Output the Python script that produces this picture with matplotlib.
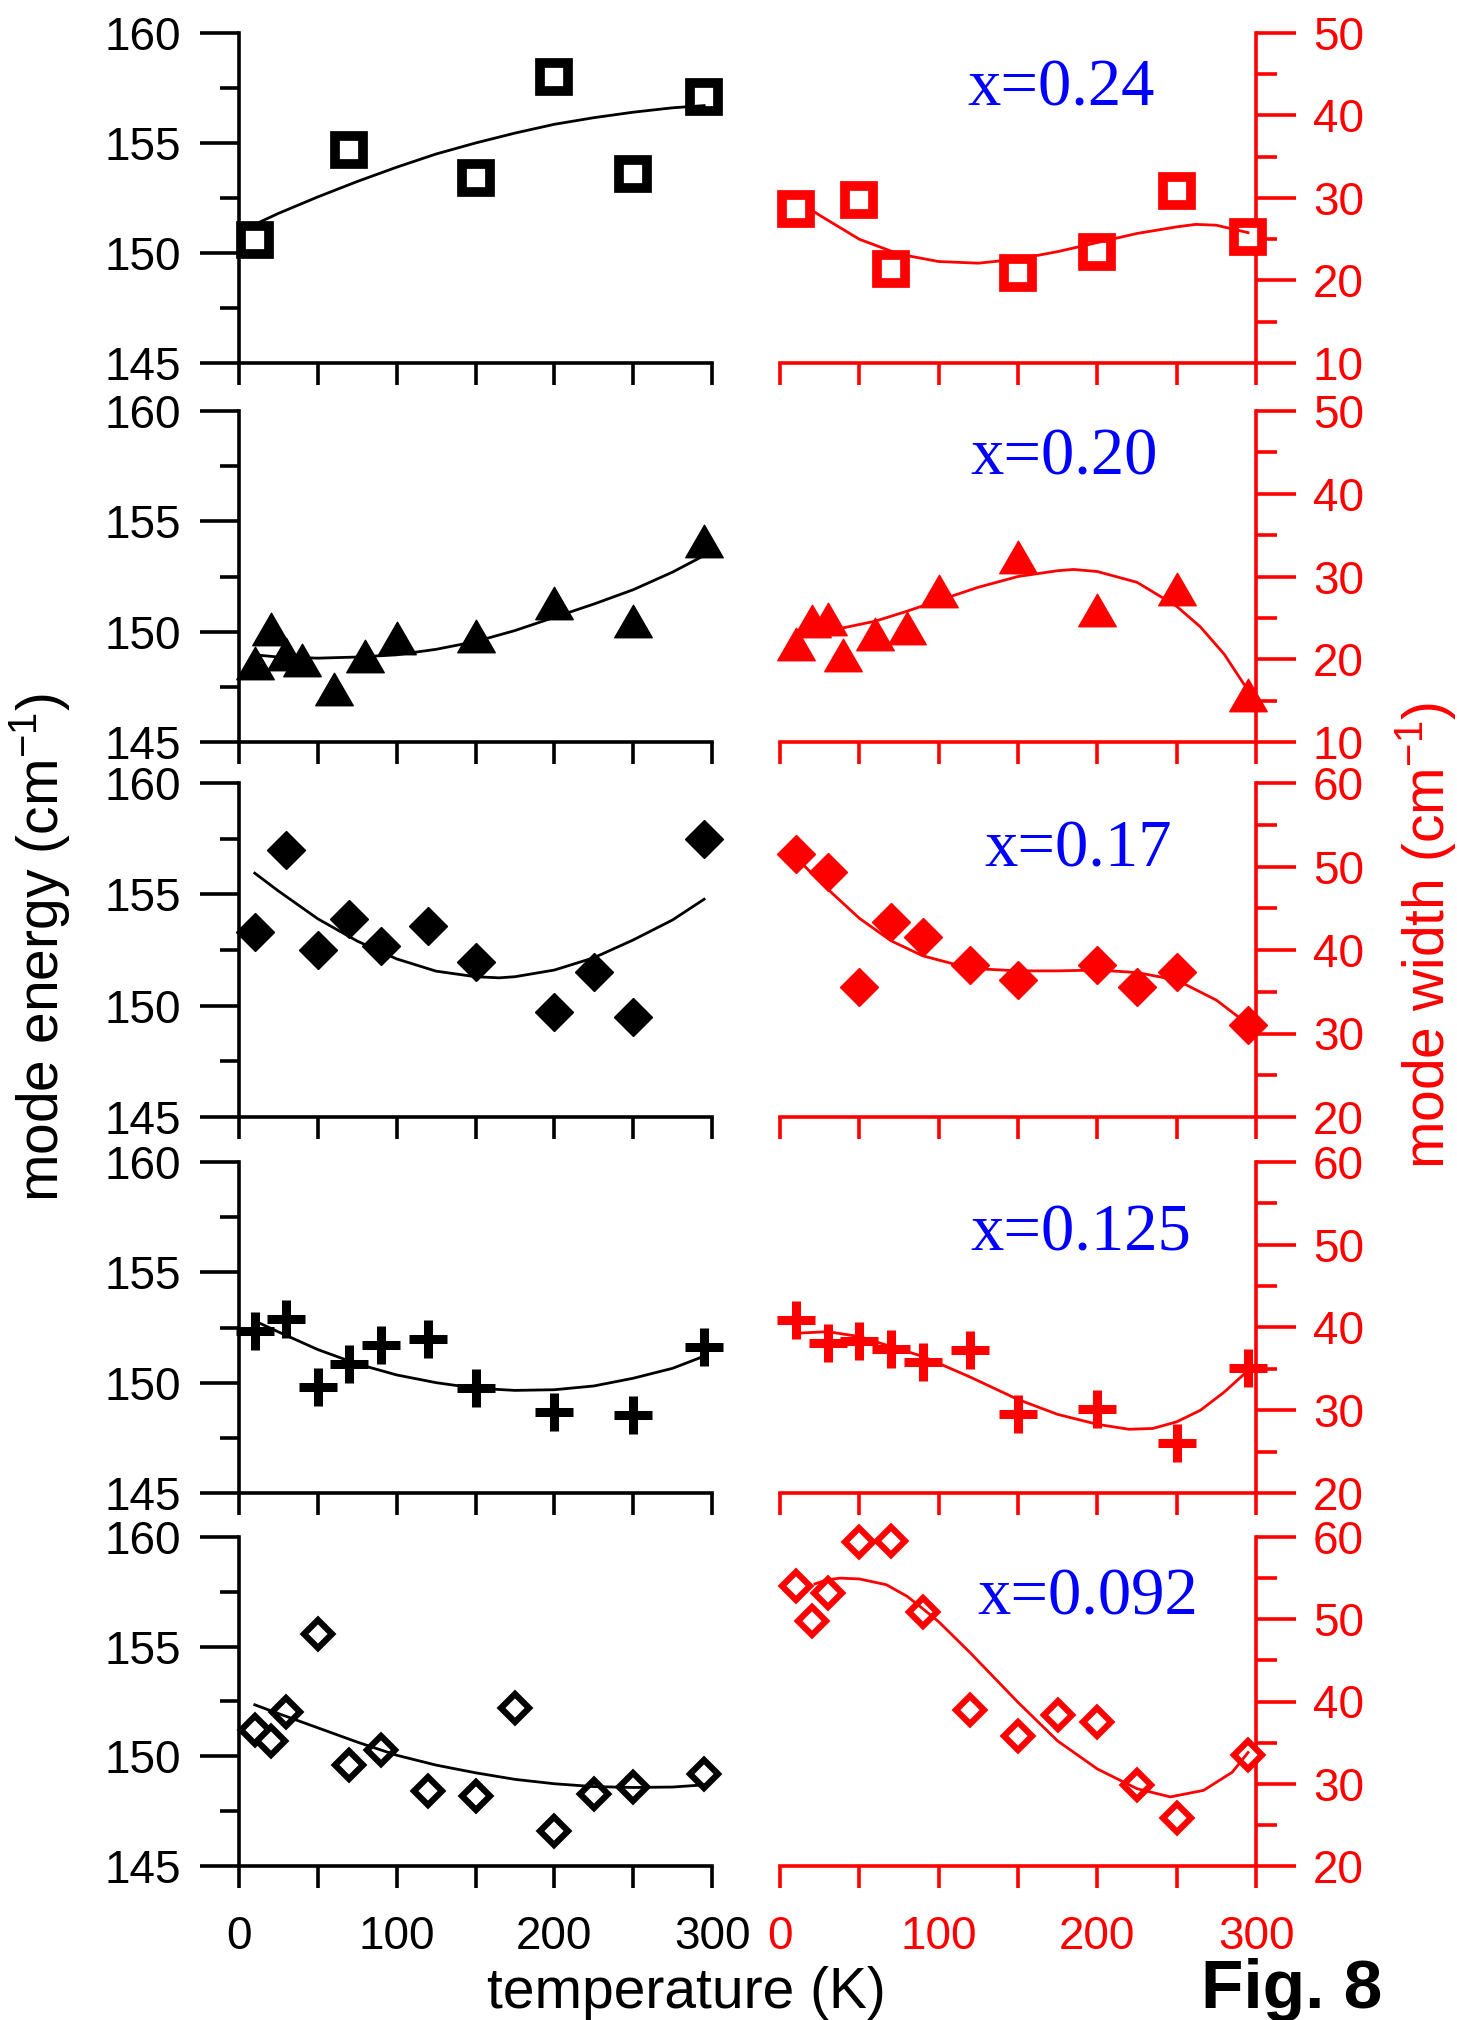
import numpy as np
import matplotlib
matplotlib.use('Agg')
import matplotlib.pyplot as plt
from matplotlib.path import Path
from matplotlib.ticker import MultipleLocator

# ---------------- datos ----------------
# x = 0.24
t24_e = [10, 70, 150, 200, 250, 295]
e24 = [150.6, 154.7, 153.4, 158.0, 153.6, 157.1]
t24_w = [10, 50, 70, 150, 200, 250, 295]
w24 = [28.7, 29.7, 21.4, 20.9, 23.4, 30.9, 25.3]
fit24_e_t = [10, 25, 50, 75, 100, 125, 150, 175, 200, 225, 250, 275, 295]
fit24_e = [151.3, 151.8, 152.55, 153.25, 153.9, 154.5, 155.0, 155.45, 155.85, 156.15, 156.4, 156.6, 156.7]
fit24_w_t = [18, 25, 50, 75, 100, 125, 150, 175, 200, 225, 250, 262, 275, 295]
fit24_w = [28.8, 27.9, 25.0, 23.2, 22.3, 22.1, 22.6, 23.5, 24.6, 25.7, 26.5, 26.8, 26.7, 25.8]

# x = 0.20
t20 = [10, 20, 30, 40, 60, 80, 100, 150, 200, 250, 295]
e20 = [148.6, 150.1, 149.0, 148.7, 147.4, 148.9, 149.7, 149.8, 151.3, 150.5, 154.1]
w20 = [21.8, 24.6, 24.9, 20.5, 23.1, 23.8, 28.3, 32.3, 26.0, 28.5, 15.7]
fit20_e_t = [10, 25, 50, 75, 100, 125, 150, 175, 200, 225, 250, 275, 295]
fit20_e = [148.95, 148.85, 148.8, 148.85, 148.95, 149.2, 149.55, 150.05, 150.65, 151.25, 151.9, 152.7, 153.45]
fit20_w_t = [22, 40, 60, 80, 100, 125, 150, 175, 185, 200, 225, 250, 265, 280, 292, 295]
fit20_w = [23.3, 23.8, 24.6, 25.8, 27.1, 28.7, 30.0, 30.7, 30.85, 30.6, 29.3, 26.4, 23.9, 20.6, 17.1, 16.3]

# x = 0.17
t17 = [10, 30, 50, 70, 90, 120, 150, 200, 225, 250, 295]
e17 = [153.3, 157.0, 152.5, 153.9, 152.7, 153.6, 151.95, 149.7, 151.5, 149.5, 157.5]
w17 = [51.5, 49.3, 35.6, 43.4, 41.6, 38.2, 36.4, 38.2, 35.6, 37.4, 31.0]
fit17_e_t = [10, 25, 50, 75, 100, 125, 150, 165, 175, 200, 225, 250, 275, 295]
fit17_e = [155.95, 155.15, 153.9, 152.9, 152.1, 151.55, 151.3, 151.25, 151.3, 151.6, 152.15, 152.95, 153.85, 154.78]
fit17_w_t = [12, 30, 50, 70, 90, 120, 150, 175, 200, 225, 250, 275, 295]
fit17_w = [50.7, 47.3, 43.8, 41.1, 39.3, 37.8, 37.5, 37.5, 37.6, 37.3, 36.4, 34.0, 31.1]

# x = 0.125
t125 = [10, 30, 50, 70, 90, 120, 150, 200, 250, 295]
e125 = [152.35, 152.9, 149.8, 150.85, 151.7, 152.0, 149.75, 148.65, 148.55, 151.6]
w125 = [40.9, 38.1, 38.4, 37.4, 35.8, 37.3, 29.6, 30.2, 26.0, 35.1]
fit125_e_t = [10, 25, 50, 75, 100, 125, 150, 175, 200, 225, 250, 275, 295]
fit125_e = [152.8, 152.3, 151.5, 150.85, 150.35, 150.0, 149.75, 149.65, 149.68, 149.85, 150.2, 150.65, 151.2]
fit125_w_t = [10, 30, 50, 70, 90, 120, 150, 175, 200, 220, 235, 250, 265, 280, 295]
fit125_w = [39.3, 39.5, 38.9, 37.7, 36.5, 34.0, 31.3, 29.5, 28.3, 27.7, 27.8, 28.6, 30.0, 32.2, 34.8]

# x = 0.092
t092 = [10, 20, 30, 50, 70, 90, 120, 150, 175, 200, 225, 250, 295]
e092 = [151.2, 150.7, 152.0, 155.6, 149.6, 150.3, 148.4, 148.2, 152.2, 146.6, 148.3, 148.6, 149.2]
w092 = [54.0, 49.8, 53.2, 59.4, 59.5, 50.9, 39.0, 35.8, 38.4, 37.5, 29.9, 25.8, 33.5]
fit092_e_t = [10, 25, 50, 75, 100, 125, 150, 175, 200, 225, 250, 275, 295]
fit092_e = [152.35, 151.95, 151.3, 150.65, 150.05, 149.6, 149.25, 148.95, 148.75, 148.62, 148.58, 148.6, 148.7]
fit092_w_t = [22, 30, 38, 50, 67, 80, 88, 100, 120, 150, 175, 200, 225, 246, 267, 285, 295]
fit092_w = [54.3, 54.8, 55.0, 54.9, 54.2, 52.8, 51.6, 49.7, 45.9, 39.9, 35.2, 31.8, 29.4, 28.4, 29.2, 31.4, 33.8]

etiquetas = ['x=0.24', 'x=0.20', 'x=0.17', 'x=0.125', 'x=0.092']

# ---------------- estilo ----------------
plt.rcParams['font.family'] = ['Liberation Sans', 'DejaVu Sans']
plt.rcParams['mathtext.fontset'] = 'custom'
plt.rcParams['mathtext.rm'] = 'Liberation Sans'
plt.rcParams['mathtext.default'] = 'regular'

W, H = 1457, 2020
fig = plt.figure(figsize=(W / 100, H / 100), dpi=100)

fila_top = [33, 411, 783, 1162, 1537]
fila_bot = [363, 742, 1117, 1493, 1866]
izq_x = (239, 712)
der_x = (780, 1256)
lims_w = [(10, 50), (10, 50), (20, 60), (20, 60), (20, 60)]
pos_etq = [(0.393, 0.78), (0.40, 0.807), (0.43, 0.749), (0.40, 0.734), (0.414, 0.763)]

tri = Path([(-1, -0.866), (1, -0.866), (0, 0.866), (-1, -0.866)], closed=True)
marcadores = [
    dict(marker='s', ms=20.5, mew=7, abierto=True),
    dict(marker=tri, ms=27, mew=1, abierto=False),
    dict(marker='D', ms=19.5, mew=1, abierto=False),
    dict(marker='+', ms=28, mew=6.5, abierto=False),
    dict(marker='D', ms=14, mew=4.5, abierto=True),
]

datos = [
    (t24_e, e24, t24_w, w24, fit24_e_t, fit24_e, fit24_w_t, fit24_w),
    (t20, e20, t20, w20, fit20_e_t, fit20_e, fit20_w_t, fit20_w),
    (t17, e17, t17, w17, fit17_e_t, fit17_e, fit17_w_t, fit17_w),
    (t125, e125, t125, w125, fit125_e_t, fit125_e, fit125_w_t, fit125_w),
    (t092, e092, t092, w092, fit092_e_t, fit092_e, fit092_w_t, fit092_w),
]

lw_eje = 2.6
tam_tick = 33


def dibujar(ax, t, v, ft, fv, color, m):
    mfc = 'white' if m['abierto'] else color
    ax.plot(t, v, ls='none', marker=m['marker'], ms=m['ms'], mew=m['mew'],
            mfc=mfc, mec=color, clip_on=False, zorder=3)
    ax.plot(ft, fv, color=color, lw=2.0, zorder=4, clip_on=False)


for i in range(5):
    tl, el, tr, wr, fte, fe, ftw, fw = datos[i]
    m = marcadores[i]
    b = 1 - fila_bot[i] / H
    h = (fila_bot[i] - fila_top[i]) / H

    # energía (izquierda)
    axL = fig.add_axes([izq_x[0] / W, b, (izq_x[1] - izq_x[0]) / W, h])
    dibujar(axL, tl, el, fte, fe, 'black', m)
    axL.set_xlim(0, 300)
    axL.set_ylim(145, 160)
    axL.xaxis.set_major_locator(MultipleLocator(100))
    axL.xaxis.set_minor_locator(MultipleLocator(50))
    axL.yaxis.set_major_locator(MultipleLocator(5))
    axL.yaxis.set_minor_locator(MultipleLocator(2.5))
    for s in ['top', 'right']:
        axL.spines[s].set_visible(False)
    for s in ['left', 'bottom']:
        axL.spines[s].set_linewidth(lw_eje)
    axL.tick_params(axis='y', which='major', direction='out', length=28, width=lw_eje,
                    pad=14, labelsize=tam_tick)
    axL.tick_params(axis='y', which='minor', direction='out', length=14, width=lw_eje)
    axL.tick_params(axis='x', which='both', direction='out', length=16, width=lw_eje,
                    pad=19, labelsize=tam_tick, labelbottom=(i == 4))

    # anchura (derecha)
    axR = fig.add_axes([der_x[0] / W, b, (der_x[1] - der_x[0]) / W, h])
    dibujar(axR, tr, wr, ftw, fw, 'red', m)
    axR.set_xlim(0, 300)
    axR.set_ylim(*lims_w[i])
    axR.xaxis.set_major_locator(MultipleLocator(100))
    axR.xaxis.set_minor_locator(MultipleLocator(50))
    axR.yaxis.set_major_locator(MultipleLocator(10))
    axR.yaxis.set_minor_locator(MultipleLocator(5))
    axR.yaxis.tick_right()
    for s in ['top', 'left']:
        axR.spines[s].set_visible(False)
    for s in ['right', 'bottom']:
        axR.spines[s].set_linewidth(lw_eje)
        axR.spines[s].set_color('red')
    axR.tick_params(axis='y', which='major', direction='out', length=29, width=lw_eje,
                    pad=12, labelsize=tam_tick, colors='red')
    axR.tick_params(axis='y', which='minor', direction='out', length=15, width=lw_eje,
                    colors='red')
    axR.tick_params(axis='x', which='both', direction='out', length=16, width=lw_eje,
                    pad=19, labelsize=tam_tick, colors='red', labelbottom=(i == 4))

    axR.text(pos_etq[i][0], pos_etq[i][1], etiquetas[i], transform=axR.transAxes,
             color='blue', fontsize=48, family='Liberation Serif',
             ha='left', va='baseline')

fig.text(40 / W, 1 - 948 / H, 'mode energy (cm$^{-1}$)', rotation=90,
         ha='center', va='center', fontsize=41)
fig.text(1426 / W, 1 - 935 / H, 'mode width (cm$^{-1}$)', rotation=90,
         ha='center', va='center', fontsize=41, color='red')
fig.text(686 / W, 1 - 2008 / H, 'temperature (K)', ha='center', va='baseline',
         fontsize=41)
fig.text(1292 / W, 1 - 2008 / H, 'Fig. 8', ha='center', va='baseline',
         fontsize=50, fontweight='bold')

fig.savefig('out.png', dpi=100)
